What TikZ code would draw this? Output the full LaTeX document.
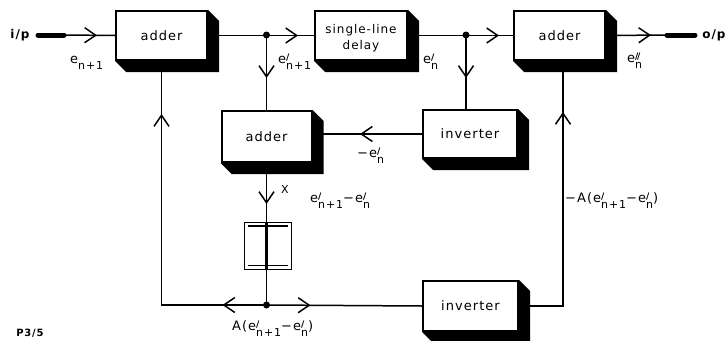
\documentclass[tikz,border=0pt]{standalone}
\usepackage{fontspec}
\setmainfont{DejaVu Sans}[LetterSpace=8]
\usetikzlibrary{arrows.meta,decorations.markings,calc}
\newcommand\ee[2]{e\rlap{\raisebox{2.5pt}{\fontsize{9}{9}\selectfont\bfseries #1}}\raisebox{-6.5pt}{\fontsize{11}{11}\selectfont#2}}
\newcommand\pr{/}
\newcommand\ppr{/\kern-1.5pt/}
\newcommand\boxshadow[1]{\fill (#1.north east) -- ++(11,11) -- ($(#1.south east)+(11,11)$) -- ($(#1.south west)+(11,11)$) -- (#1.south west) -- (#1.south east) -- cycle;}
\tikzset{
 blk/.style={draw, line width=2pt, fill=white, inner sep=0pt, font=\fontsize{13}{15}\selectfont, minimum width=91pt, minimum height=49pt},
 wire/.style={line width=1.5pt},
 chev/.style={postaction={decorate, decoration={markings, mark=at position #1 with {\arrow{Straight Barb[length=11pt, width=15pt, line width=1.5pt]}}}}},
 lab/.style={font=\fontsize{13}{15}\selectfont, inner sep=0pt, anchor=base west},
 dot/.style={circle, fill, inner sep=0pt, minimum size=7pt},
 bar/.style={line width=5pt, line cap=round}
}
\begin{document}
\begin{tikzpicture}[x=1pt, y=-1pt]
\useasboundingbox (0,0) rectangle (727,340);
% blocks
\node[blk] (a1) at (161.5,35.5) {adder};
\node[blk, minimum width=92pt, font=\fontsize{12}{16}\selectfont] (dly) at (361,35.5) {\raisebox{-6pt}[0pt][0pt]{\begin{tabular}{@{}c@{}}single-line\\delay\end{tabular}}};
\node[blk] (a3) at (559.5,35.5) {adder};
\node[blk, minimum width=90pt, minimum height=51pt] (a2) at (266.5,136.5) {adder};
\node[blk, minimum width=94pt, minimum height=48pt] (inv1) at (470,134) {inverter};
\node[blk, minimum width=95pt, minimum height=50pt] (inv2) at (470.5,306) {inverter};
\node[draw, line width=1.5pt, minimum size=47pt, inner sep=0pt] (cap) at (268,246) {};
\draw[wire] ([shift={(4,4)}]cap.north west) -- ([shift={(-4,4)}]cap.north east);
\draw[wire] ([shift={(4,-5)}]cap.south west) -- ([shift={(-4,-5)}]cap.south east);
% input / output
\node[font=\fontsize{12}{14}\selectfont\bfseries, inner sep=0pt] (ip) at (20,35) {i/p};
\coordinate (ipA) at (38,35);
\coordinate (ipB) at (64,35);
\draw[bar] (ipA) -- (ipB);
\draw[wire, chev=33pt] (ipB) -- (a1.west);
\coordinate (opA) at (667,35);
\coordinate (opB) at (695,35);
\draw[wire, chev=45pt] (a3.east) -- (opA);
\draw[bar] (opA) -- (opB);
\node[font=\fontsize{12}{14}\selectfont\bfseries, inner sep=0pt] (op) at (714,35) {o/p};
% top row
\node[dot] (j1) at (266.5,35) {};
\node[dot] (j2) at (466,35) {};
\draw[wire, chev=90pt] (a1.east) -- (dly.west);
\draw[wire, chev=91pt] (dly.east) -- (a3.west);
\draw[wire, chev=43pt] (j1.center) -- (a2.north);
\draw[wire, chev=43pt] (j2.center) -- (j2.center |- inv1.north);
% middle
\draw[wire, chev=62pt] (inv1.west) -- (inv1.west -| a2.east);
\node[dot] (j3) at (266.5,305) {};
\draw[wire, chev=41pt] (a2.south) -- (a2.south |- cap.north);
\draw[wire] (a2.south |- cap.south) -- (j3.center);
% bottom
\draw[wire, chev=44pt, chev=296pt] (j3.center) -| (a1.south);
\draw[wire, chev=44pt] (j3.center) -- (inv2.west);
\draw[wire, chev=238pt] (inv2.east) -| ($(a3.south)+(3.5,0)$);
% shadows
\boxshadow{a1}
\boxshadow{dly}
\boxshadow{a3}
\boxshadow{a2}
\boxshadow{inv1}
\boxshadow{inv2}
% labels
\node[lab] (l1) at (70,63) {\ee{}{n+1}};
\node[lab] (l2) at (278,63) {\ee{\pr}{n+1}};
\node[lab] (l3) at (423,63) {\ee{\pr}{n}};
\node[lab] (l4) at (627,62) {\ee{\ppr}{n}};
\node[lab] (l5) at (357,157) {−\ee{\pr}{n}};
\node[lab, font=\fontsize{11}{13}\selectfont] (lx) at (281,193) {X};
\node[lab] (l6) at (310,202) {\ee{\pr}{n+1}−\ee{\pr}{n}};
\node[lab] (l7) at (565,202) {−A(\ee{\pr}{n+1}−\ee{\pr}{n})};
\node[lab] (l8) at (232,330) {A(\ee{\pr}{n+1}−\ee{\pr}{n})};
\node[font=\fontsize{10}{12}\selectfont\bfseries, inner sep=0pt] (pg) at (30,333) {P3/5};
% rod through the delay element
\coordinate (rodT) at (265.3,223);
\coordinate (rodB) at (267.7,269);
\fill[black] (rodT) rectangle (rodB);
\end{tikzpicture}
\end{document}
